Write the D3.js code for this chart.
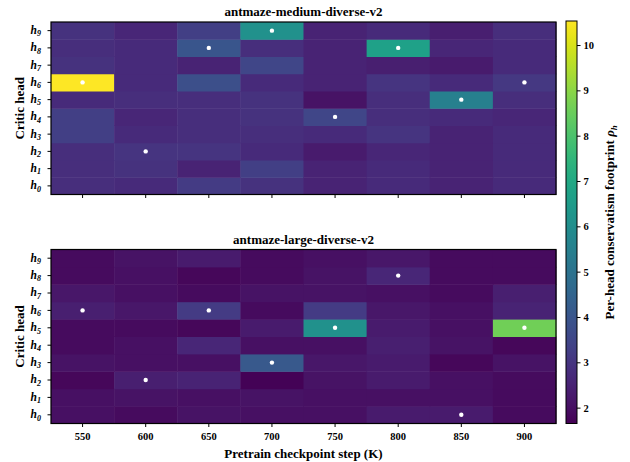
<!DOCTYPE html>
<html>
<head>
<meta charset="utf-8">
<script src="https://cdn.jsdelivr.net/npm/d3@7"></script>
<style>
  body { margin: 0; background: #fff; }
  svg text { font-family: "Liberation Serif", "Times New Roman", Times, "DejaVu Serif", serif; font-weight: bold; }
</style>
</head>
<body>
<div id="chart"></div>
<script>
const steps = [550, 600, 650, 700, 750, 800, 850, 900]
const heads = ["0", "1", "2", "3", "4", "5", "6", "7", "8", "9"]
const cbTicks = [2, 3, 4, 5, 6, 7, 8, 9, 10]

// rows: h0..h9, one value per checkpoint step
const mediumValues = [
  [2.8, 2.7, 3.2, 2.9, 2.5, 2.7, 2.5, 2.7],
  [2.8, 2.9, 2.5, 3.3, 2.5, 2.7, 2.5, 2.7],
  [2.8, 3.0, 3.0, 2.7, 2.3, 2.6, 2.5, 2.7],
  [3.3, 2.7, 2.8, 2.8, 2.7, 3.0, 2.5, 2.7],
  [3.3, 2.6, 2.8, 2.9, 3.5, 2.8, 2.7, 2.6],
  [2.7, 2.8, 2.8, 2.9, 2.1, 2.8, 5.5, 2.8],
  [10.5, 2.7, 3.8, 2.7, 2.5, 3.0, 2.7, 3.1],
  [2.9, 2.7, 2.5, 3.5, 2.5, 2.4, 2.3, 2.7],
  [2.8, 2.7, 4.0, 2.8, 2.5, 6.7, 2.6, 2.7],
  [2.9, 2.6, 3.3, 6.1, 2.5, 2.7, 2.4, 2.8]
]
const largeValues = [
  [2.0, 1.9, 2.1, 2.0, 2.0, 2.3, 2.3, 1.9],
  [2.0, 2.1, 2.0, 2.1, 2.0, 2.0, 2.0, 1.9],
  [1.8, 2.4, 2.5, 1.7, 2.1, 2.3, 2.0, 1.9],
  [2.1, 2.0, 2.0, 4.1, 2.2, 2.3, 1.8, 2.1],
  [1.9, 2.0, 2.6, 2.0, 2.0, 2.4, 2.1, 1.8],
  [1.9, 1.9, 1.8, 2.3, 6.1, 2.3, 2.0, 8.6],
  [2.4, 2.2, 3.2, 1.9, 3.2, 2.2, 2.0, 2.5],
  [2.2, 2.0, 1.9, 2.1, 2.1, 2.0, 1.9, 2.4],
  [1.9, 2.0, 1.8, 1.9, 2.1, 2.6, 1.9, 1.9],
  [1.9, 2.1, 2.3, 1.9, 2.0, 2.2, 1.9, 1.9]
]

const vmin = 1.65, vmax = 10.53
const color = d3.scaleSequential(d3.interpolateViridis).domain([vmin, vmax])

const width = 630, height = 462
const svg = d3.select("#chart").append("svg")
  .attr("width", width).attr("height", height)

const x = d3.scaleBand().domain(steps).range([51, 556])

const drawPanel = (values, title, top, bottom, showX) => {
  const y = d3.scaleBand().domain(heads).range([bottom, top])
  const g = svg.append("g")

  steps.forEach((s, j) => {
    heads.forEach((h, i) => {
      g.append("rect")
        .attr("x", x(s)).attr("y", y(h))
        .attr("width", x.bandwidth() + 0.5).attr("height", y.bandwidth() + 0.5)
        .attr("fill", color(values[i][j]))
    })
    // white dot at most conservative head for this step
    const col = values.map(r => r[j])
    const best = col.indexOf(d3.max(col))
    g.append("circle")
      .attr("cx", x(s) + x.bandwidth() / 2)
      .attr("cy", y(heads[best]) + y.bandwidth() / 2)
      .attr("r", 2.2).attr("fill", "#fff")
  })

  g.append("rect")
    .attr("x", 51).attr("y", top).attr("width", 505).attr("height", bottom - top)
    .attr("fill", "none").attr("stroke", "#000").attr("stroke-width", 1.2)

  const xAxis = d3.axisBottom(x).tickSize(3.5).tickSizeOuter(0)
    .tickFormat(showX ? d => d : () => "")
  g.append("g").attr("transform", `translate(0,${bottom})`).call(xAxis)
    .attr("font-family", null)
    .call(a => a.select(".domain").remove())
    .call(a => a.selectAll("text").attr("font-size", 10.5).attr("dy", "0.95em"))

  const yAxis = d3.axisLeft(y).tickSize(3.5).tickSizeOuter(0).tickFormat("")
  const ya = g.append("g").attr("transform", "translate(51,0)").call(yAxis)
    .attr("font-family", null)
  ya.select(".domain").remove()
  ya.selectAll(".tick").each(function (h) {
    const t = d3.select(this).append("text")
      .attr("x", -10).attr("dy", "0.3em").attr("text-anchor", "end")
      .attr("fill", "#000").attr("font-size", 11.5).attr("font-style", "italic")
    t.append("tspan").text("h")
    t.append("tspan").attr("font-size", 8).attr("dy", "0.3em").text(h)
  })

  g.append("text")
    .attr("x", (51 + 556) / 2).attr("y", top - 6)
    .attr("text-anchor", "middle").attr("font-size", 13)
    .text(title)

  g.append("text")
    .attr("transform", `translate(24,${(top + bottom) / 2}) rotate(-90)`)
    .attr("text-anchor", "middle").attr("font-size", 13)
    .text("Critic head")
}

drawPanel(mediumValues, "antmaze-medium-diverse-v2", 22, 194.5, false)
drawPanel(largeValues, "antmaze-large-diverse-v2", 249.5, 423.5, true)

svg.append("text")
  .attr("x", (51 + 556) / 2).attr("y", 458)
  .attr("text-anchor", "middle").attr("font-size", 13)
  .text("Pretrain checkpoint step (K)")

// colorbar
const cbX = 566, cbW = 11, cbTop = 21, cbBottom = 423.5
const cbScale = d3.scaleLinear().domain([vmin, vmax]).range([cbBottom, cbTop])
const defs = svg.append("defs")
const grad = defs.append("linearGradient").attr("id", "cb")
  .attr("x1", 0).attr("y1", 1).attr("x2", 0).attr("y2", 0)
d3.range(0, 1.0001, 0.02).forEach(t => {
  grad.append("stop").attr("offset", t).attr("stop-color", d3.interpolateViridis(t))
})
svg.append("rect")
  .attr("x", cbX).attr("y", cbTop).attr("width", cbW).attr("height", cbBottom - cbTop)
  .attr("fill", "url(#cb)").attr("stroke", "#000").attr("stroke-width", 1)

svg.append("g").attr("transform", `translate(${cbX + cbW},0)`)
  .call(d3.axisRight(cbScale).tickValues(cbTicks).tickSize(3.5).tickFormat(d3.format("d")))
  .attr("font-family", null)
  .call(a => a.select(".domain").remove())
  .call(a => a.selectAll("text").attr("font-size", 10.5))

const cbLabel = svg.append("text")
  .attr("transform", `translate(614,${(cbTop + cbBottom) / 2}) rotate(-90)`)
  .attr("text-anchor", "middle").attr("font-size", 13)
cbLabel.append("tspan").text("Per-head conservatism footprint ")
cbLabel.append("tspan").attr("font-style", "italic").text("ρ")
cbLabel.append("tspan").attr("font-style", "italic").attr("font-size", 9).attr("dy", "0.3em").text("h")
</script>
</body>
</html>
